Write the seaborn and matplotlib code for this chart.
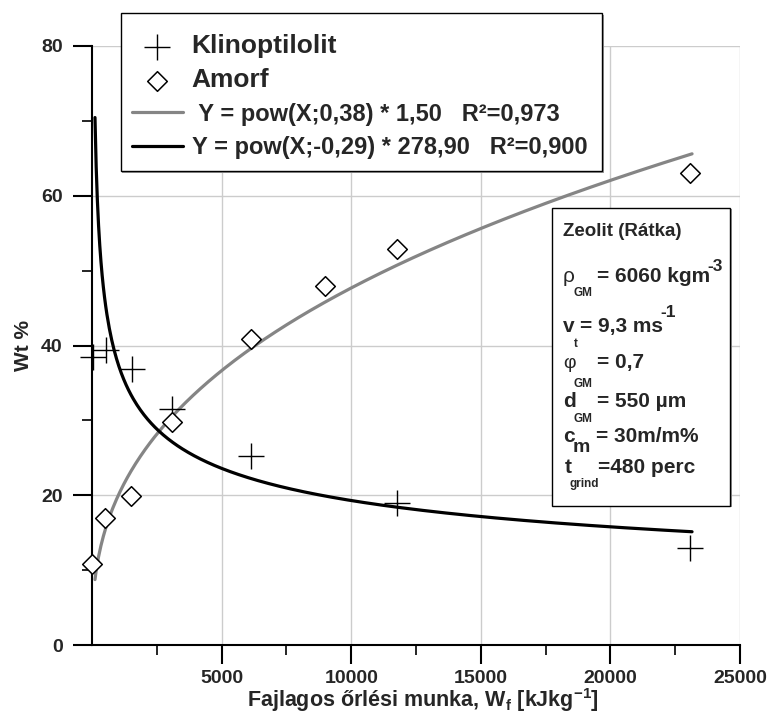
import numpy as np
import pandas as pd
import matplotlib
matplotlib.use("Agg")
import matplotlib.pyplot as plt
from matplotlib.patches import Rectangle
from matplotlib.collections import PathCollection
import seaborn as sns

# ---------------- data ----------------
klino_x = [50, 540, 1530, 3075, 6120, 11755, 23070]
klino_y = [38.4, 39.4, 36.8, 31.5, 25.2, 18.9, 13.0]
amorf_x = [10, 500, 1500, 3100, 6120, 8990, 11755, 23090]
amorf_y = [10.8, 17.0, 19.9, 29.8, 40.9, 47.9, 52.9, 63.0]

# power-law fit curves (coefficient, exponent) as drawn
fit_amorf = (1.44, 0.38)
fit_klino = (278.90, -0.29)
fit_range = (115, 23150)

series_labels = ["Klinoptilolit", "Amorf",
                 " Y = pow(X;0,38) * 1,50   R\u00b2=0,973",
                 "Y = pow(X;-0,29) * 278,90   R\u00b2=0,900"]
x_ticks = [5000, 10000, 15000, 20000, 25000]
y_ticks = [0, 20, 40, 60, 80]

# ---------------- style ----------------
sns.set_style("ticks")
plt.rcParams["font.family"] = ["Liberation Sans", "DejaVu Sans"]
plt.rcParams["font.weight"] = "bold"
plt.rcParams["mathtext.fontset"] = "custom"
plt.rcParams["mathtext.rm"] = "Liberation Sans:bold"
plt.rcParams["mathtext.bf"] = "Liberation Sans:bold"
plt.rcParams["mathtext.it"] = "Liberation Sans:bold"
plt.rcParams["mathtext.default"] = "bf"

W, H = 769, 717
fig = plt.figure(figsize=(W / 100, H / 100), dpi=100)
ax = fig.add_axes([92 / W, (H - 645) / H, 648 / W, 599 / H])

def fpx(x, y):
    return (x / W, 1 - y / H)

fx = np.linspace(fit_range[0], fit_range[1], 500)
curves = pd.DataFrame({
    "x": fx,
    "amorf": fit_amorf[0] * fx ** fit_amorf[1],
    "klino": fit_klino[0] * fx ** fit_klino[1],
})

sns.lineplot(data=curves, x="x", y="amorf", ax=ax, color="#858585", lw=2.3,
             zorder=3, errorbar=None)
sns.lineplot(data=curves, x="x", y="klino", ax=ax, color="black", lw=2.3,
             zorder=3, errorbar=None)
sns.scatterplot(x=klino_x, y=klino_y, ax=ax, marker="+", s=330, color="black",
                linewidth=1.0, zorder=4, clip_on=False)
sns.scatterplot(x=amorf_x, y=amorf_y, ax=ax, marker="D", s=100, facecolor="white",
                edgecolor="black", linewidth=1.1, zorder=5, clip_on=False)

ax.set_xlim(0, 25000)
ax.set_ylim(0, 80)
ax.set_xticks(x_ticks)
ax.set_xticks([2500, 7500, 12500, 17500, 22500], minor=True)
ax.set_yticks(y_ticks)
ax.set_yticks([10, 30, 50, 70], minor=True)
ax.set_xticklabels([str(v) for v in x_ticks], fontsize=14, fontweight="bold")
ax.set_yticklabels([str(v) for v in y_ticks], fontsize=14, fontweight="bold")
ax.tick_params(axis="both", which="major", length=14, width=1.5, direction="out",
               color="black", pad=4)
ax.tick_params(axis="both", which="minor", length=7, width=1.2, direction="out",
               color="black")
ax.tick_params(axis="y", which="major", pad=7)
ax.grid(True, which="major", color="#cccccc", lw=1.0)
ax.set_axisbelow(True)
for s in ["top", "right"]:
    ax.spines[s].set_visible(False)
for s in ["left", "bottom"]:
    ax.spines[s].set_linewidth(1.5)
    ax.spines[s].set_color("black")

ax.set_xlabel("Fajlagos őrlési munka, W$_{f}$ [kJkg$^{-1}$]",
              fontsize=15.5, fontweight="bold", labelpad=1)
ax.xaxis.set_label_coords((423 - 92) / 648, -0.068)
ax.set_ylabel("Wt %", fontsize=15, fontweight="bold", labelpad=6)

# ---------------- legend ----------------
pcs = [c for c in ax.collections if isinstance(c, PathCollection)]
handles = [pcs[0], pcs[1], ax.lines[0], ax.lines[1]]

lx0, ly0 = fpx(121, 171)
lx1, ly1 = fpx(602, 13)
fig.patches.append(Rectangle((lx0 + 1.5 / W, ly0 - 1.5 / H), lx1 - lx0, ly1 - ly0,
                             transform=fig.transFigure, facecolor="0.6",
                             edgecolor="none", zorder=8))
fig.patches.append(Rectangle((lx0, ly0), lx1 - lx0, ly1 - ly0,
                             transform=fig.transFigure, facecolor="white",
                             edgecolor="black", lw=1.0, zorder=9))

leg = fig.legend(handles, series_labels, loc="upper left",
                 bbox_to_anchor=fpx(120, 22), bbox_transform=fig.transFigure,
                 borderaxespad=0, fontsize=17, frameon=False,
                 handlelength=2.15, handletextpad=0.38, borderpad=0.5,
                 labelspacing=0.44, scatterpoints=1)
leg.set_zorder(20)
texts = leg.get_texts()
texts[0].set_fontsize(19)
texts[1].set_fontsize(19)
for t in texts:
    t.set_fontweight("bold")

# ---------------- info box ----------------
bx0, by0 = fpx(552, 506)
bx1, by1 = fpx(730, 208)
fig.patches.append(Rectangle((bx0 + 1.5 / W, by0 - 1.5 / H), bx1 - bx0, by1 - by0,
                             transform=fig.transFigure, facecolor="0.6",
                             edgecolor="none", zorder=8))
fig.patches.append(Rectangle((bx0, by0), bx1 - bx0, by1 - by0,
                             transform=fig.transFigure, facecolor="white",
                             edgecolor="black", lw=1.0, zorder=9))

def T(x, y, s, size, weight="bold"):
    fig.text(*fpx(x, y), s, fontsize=size, fontweight=weight, va="baseline",
             ha="left", zorder=10)

main = 15
T(563, 236, "Zeolit (Rátka)", 13.5)
T(563, 282, "ρ", 15, "normal")
T(574, 296, "GM", 8.5)
T(597, 282, "= 6060 kgm", main)
T(707, 271, "-3", 12.5)
T(563, 332, "v", main)
T(574, 347, "t", 8.5)
T(580, 332, "= 9,3 ms", main)
T(660, 317, "-1", 12.5)
T(563, 368, "φ", 14, "normal")
T(574, 387, "GM", 8.5)
T(597, 368, "= 0,7", main)
T(563, 407, "d", main)
T(574, 422, "GM", 8.5)
T(597, 407, "= 550 µm", main)
T(563, 442, "c", main)
T(573, 452, "m", 14)
T(596, 442, "= 30m/m%", main)
T(565, 473, "t", main)
T(598, 473, "=480 perc", main)
T(569, 487, "grind", 8.5)

fig.savefig("out.png", dpi=100)
